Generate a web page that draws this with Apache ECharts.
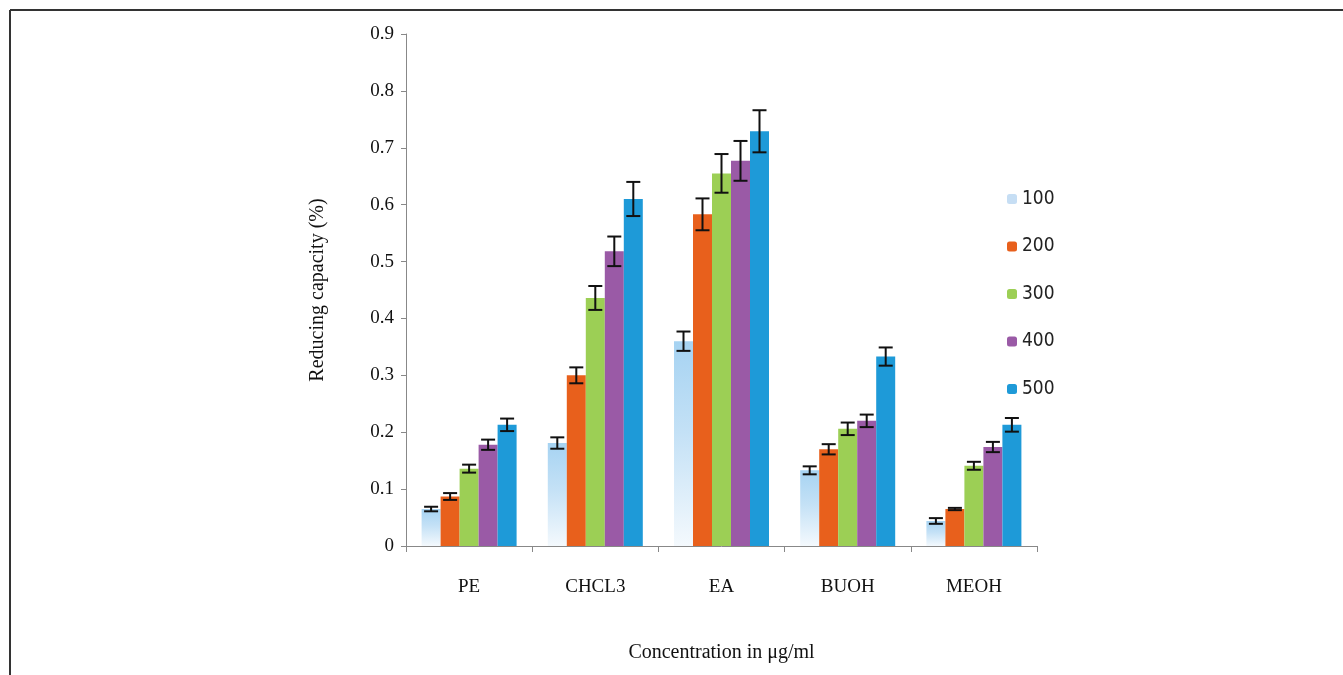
<!DOCTYPE html>
<html><head><meta charset="utf-8">
<script src="https://cdn.jsdelivr.net/npm/echarts@6/dist/echarts.min.js"></script>
<style>html,body{margin:0;padding:0;background:#fff}#c{width:1343px;height:675px}</style>
</head><body><div id="c"></div>
<script>
const categories = ['PE', 'CHCL3', 'EA', 'BUOH', 'MEOH'];
const seriesNames = ['100', '200', '300', '400', '500'];
const yTicks = ['0', '0.1', '0.2', '0.3', '0.4', '0.5', '0.6', '0.7', '0.8', '0.9'];
const v100 = [0.065, 0.181, 0.360, 0.133, 0.044];
const v200 = [0.087, 0.300, 0.583, 0.170, 0.065];
const v300 = [0.136, 0.436, 0.655, 0.206, 0.141];
const v400 = [0.178, 0.518, 0.677, 0.220, 0.174];
const v500 = [0.213, 0.610, 0.729, 0.333, 0.213];
const e100 = [0.004, 0.010, 0.017, 0.007, 0.005];
const e200 = [0.006, 0.014, 0.028, 0.009, 0.002];
const e300 = [0.007, 0.021, 0.034, 0.011, 0.007];
const e400 = [0.009, 0.026, 0.035, 0.011, 0.009];
const e500 = [0.011, 0.030, 0.037, 0.016, 0.012];

const values = [v100, v200, v300, v400, v500];
const errors = [e100, e200, e300, e400, e500];
const colors = [
  new echarts.graphic.LinearGradient(0,0,0,1,[{offset:0,color:'#a6d3f2'},{offset:0.45,color:'#c4e1f6'},{offset:1,color:'#f4f9fd'}]),
  '#e8601c', '#9ccf55', '#9a5aa6', '#1e9ad8'
];
const legendColors = ['#c6def4', '#e8601c', '#9ccf55', '#9a5aa6', '#1e9ad8'];
const BW = 19;

const chart = echarts.init(document.getElementById('c'));
const series = [];
seriesNames.forEach((n, i) => {
  series.push({
    name: n, type: 'bar', data: values[i], barWidth: BW, barGap: '0%',
    itemStyle: { color: colors[i] }
  });
});
seriesNames.forEach((n, i) => {
  series.push({
    type: 'custom', name: n + '_err', silent: true, z: 10,
    data: values[i].map((v, k) => [k, v, errors[i][k]]),
    renderItem: function (params, api) {
      const k = api.value(0), v = api.value(1), e = api.value(2);
      const base = api.coord([k, v]);
      const x = base[0] + (i - 2) * BW;
      const top = api.coord([k, v + e])[1];
      const bot = api.coord([k, v - e])[1];
      const hw = 7;
      const st = { stroke: '#111', lineWidth: 2 };
      return { type: 'group', children: [
        { type: 'line', shape: { x1: x, y1: top, x2: x, y2: bot }, style: st },
        { type: 'line', shape: { x1: x - hw, y1: top, x2: x + hw, y2: top }, style: st },
        { type: 'line', shape: { x1: x - hw, y1: bot, x2: x + hw, y2: bot }, style: st }
      ]};
    }
  });
});

chart.setOption({
  animation: false,
  backgroundColor: '#fff',
  grid: { left: 406, right: 306, top: 34, bottom: 129 },
  legend: {
    data: seriesNames.map((n, i) => ({ name: n, itemStyle: { color: legendColors[i] } })),
    orient: 'vertical', left: 1002, top: 184,
    itemWidth: 10, itemHeight: 10, itemGap: 27.5,
    textStyle: { fontFamily: 'DejaVu Sans Condensed', fontSize: 19, color: '#222', lineHeight: 20 }
  },
  xAxis: {
    type: 'category', data: categories,
    axisLine: { lineStyle: { color: '#888', width: 1 } },
    axisTick: { show: true, length: 6, lineStyle: { color: '#888' } },
    axisLabel: { fontFamily: 'Liberation Serif', fontSize: 19, color: '#111', margin: 32 },
    name: 'Concentration in μg/ml', nameLocation: 'middle', nameGap: 97,
    nameTextStyle: { fontFamily: 'Liberation Serif', fontSize: 20, color: '#111' }
  },
  yAxis: {
    type: 'value', min: 0, max: 0.9, interval: 0.1,
    axisLine: { show: true, lineStyle: { color: '#888', width: 1 } },
    axisTick: { show: true, length: 5, lineStyle: { color: '#888' } },
    splitLine: { show: false },
    axisLabel: { fontFamily: 'Liberation Serif', fontSize: 19, color: '#111', margin: 12,
      formatter: (v) => yTicks[Math.round(v * 10)] },
    name: 'Reducing capacity (%)', nameLocation: 'middle', nameGap: 78, nameRotate: 90,
    nameTextStyle: { fontFamily: 'Liberation Serif', fontSize: 20, color: '#111' }
  },
  graphic: [
    { type: 'line', shape: { x1: 10, y1: 10, x2: 1343, y2: 10 }, style: { stroke: '#333', lineWidth: 2 } },
    { type: 'line', shape: { x1: 10, y1: 10, x2: 10, y2: 675 }, style: { stroke: '#333', lineWidth: 2 } }
  ],
  series: series
});
</script></body></html>
